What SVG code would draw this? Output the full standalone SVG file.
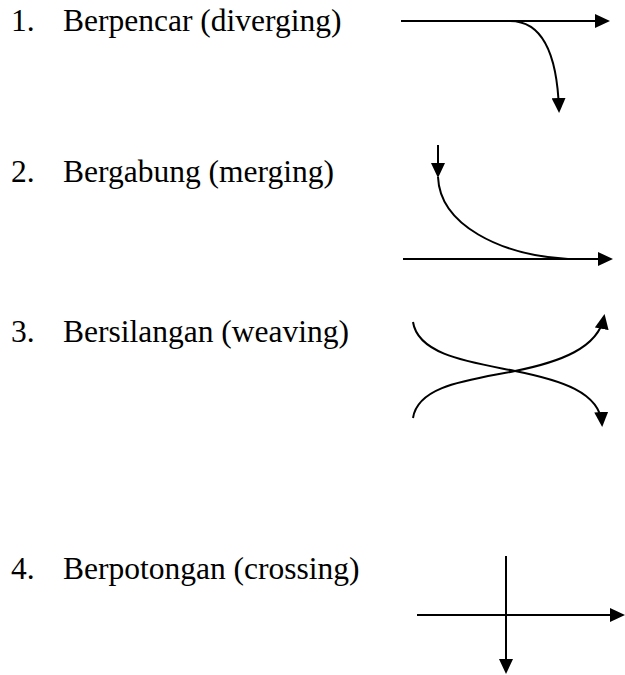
<svg xmlns="http://www.w3.org/2000/svg" width="625" height="675" viewBox="0 0 625 675">
<style>
.lbl{font-family:"Liberation Serif","Times New Roman",serif;font-size:31.5px;fill:#000}
.ln{fill:none;stroke:#000;stroke-width:2}
</style>
<defs>
<marker id="ah" markerUnits="userSpaceOnUse" markerWidth="15" markerHeight="14" viewBox="0 0 15 14" refX="12" refY="7" orient="auto">
<path d="M0,0 L15,7 L0,14 z" fill="#000"/>
</marker>
</defs>
<g id="label1"><text class="lbl" x="11" y="31">1.</text><text class="lbl" x="63" y="31">Berpencar (diverging)</text></g>
<g id="label2"><text class="lbl" x="11" y="182">2.</text><text class="lbl" x="63" y="182">Bergabung (merging)</text></g>
<g id="label3"><text class="lbl" x="11" y="342">3.</text><text class="lbl" x="63" y="342">Bersilangan (weaving)</text></g>
<g id="label4"><text class="lbl" x="11" y="579">4.</text><text class="lbl" x="63" y="579">Berpotongan (crossing)</text></g>
<g id="connectors">
<path class="ln" d="M401,21 L607,21" marker-end="url(#ah)"/>
<path class="ln" d="M510,21 C540,21 557,48 559,110" marker-end="url(#ah)"/>
<path class="ln" d="M438,145 L438,175" marker-end="url(#ah)"/>
<path class="ln" d="M438,177 C440,225 500,255 568,259"/>
<path class="ln" d="M403,259 L610,259" marker-end="url(#ah)"/>
<path class="ln" d="M413,322 C418,355 470,362 515,371 C560,380 600,392 602,424" marker-end="url(#ah)"/>
<path class="ln" d="M413,418 C418,385 470,380 515,371 C560,362 598,348 604,317" marker-end="url(#ah)"/>
<path class="ln" d="M417,615 L622,615" marker-end="url(#ah)"/>
<path class="ln" d="M506,556 L506,671" marker-end="url(#ah)"/>
</g>
</svg>
